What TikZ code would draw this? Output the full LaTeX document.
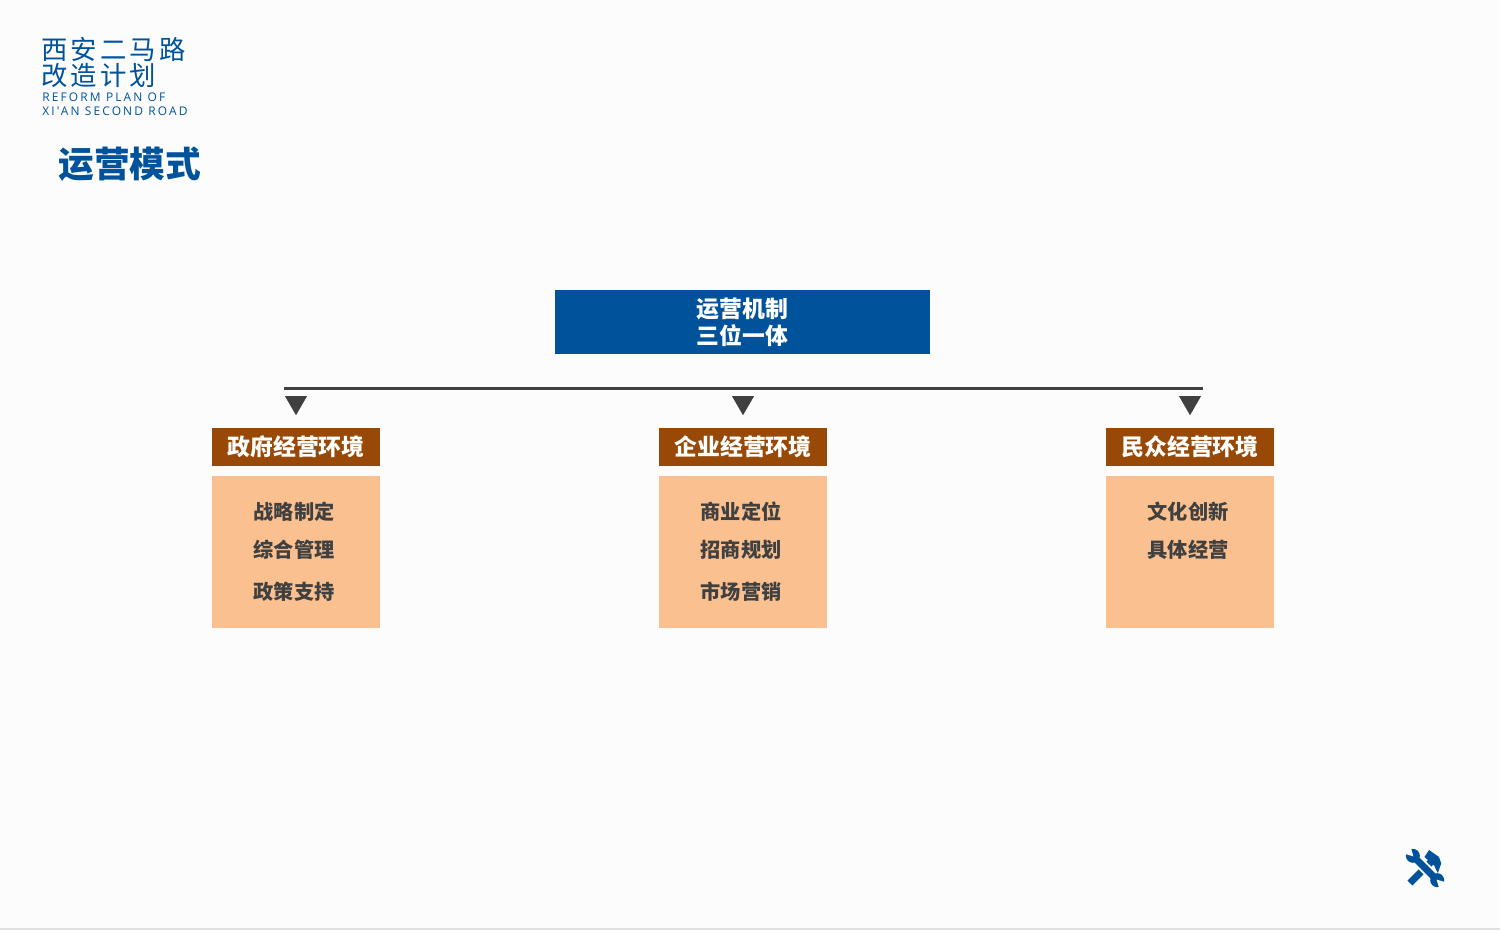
\documentclass[tikz,border=0pt]{standalone}
\usepackage{fontspec}
\setmainfont{Noto Sans CJK SC}
\newfontfamily\logofont[LetterSpace=12]{Noto Sans CJK SC}
\newfontfamily\logolatin[LetterSpace=18]{Open Sans}
\usetikzlibrary{shapes.geometric}
\definecolor{roadblue}{HTML}{00529B}
\definecolor{envbrown}{HTML}{984807}
\definecolor{envpeach}{HTML}{FAC090}
\definecolor{lineblack}{HTML}{404040}
\tikzset{
  mainbox/.style={fill=roadblue,text=white,minimum width=7.5cm,minimum height=1.28cm,inner sep=0pt,align=center,font=\fontsize{13}{15.3}\selectfont\bfseries},
  envhead/.style={fill=envbrown,text=white,minimum width=3.36cm,minimum height=0.76cm,inner sep=0pt,font=\fontsize{13}{15}\selectfont\bfseries},
  envbody/.style={fill=envpeach,minimum width=3.36cm,minimum height=3.04cm,inner sep=0pt},
  envitem/.style={text=lineblack,inner sep=0pt,font=\fontsize{11.5}{13}\selectfont\bfseries},
  downtri/.style={regular polygon,regular polygon sides=3,shape border rotate=180,fill=lineblack,minimum size=0.51cm,inner sep=0pt},
  logoline/.style={anchor=west,inner sep=0pt,text=roadblue}
}
\begin{document}
\begin{tikzpicture}
\fill[white!99!black] (0,0) rectangle (30,18.6);
\fill[black!12] (0,0) rectangle (30,0.04);
% logo and heading
\node[logoline,font=\logofont\fontsize{15}{16}\selectfont] (logoa) at (0.82,17.62) {西安二马路};
\node[logoline,font=\logofont\fontsize{15}{16}\selectfont] (logob) at (0.82,17.08) {改造计划};
\node[logoline,font=\logolatin\fontsize{6.8}{8}\selectfont] (logoc) at (0.84,16.66) {REFORM PLAN OF};
\node[logoline,font=\logolatin\fontsize{6.8}{8}\selectfont] (logod) at (0.84,16.38) {XI'AN SECOND ROAD};
\node[logoline,font=\fontsize{20.3}{22}\selectfont\bfseries] (heading) at (1.16,15.31) {运营模式};
% top box
\node[mainbox] (mechanism) at (14.85,12.16) {运营机制\\三位一体};
\coordinate (busleft) at (5.68,10.83);
\coordinate (busright) at (24.06,10.83);
\draw[lineblack,line width=1.7pt] (busleft) -- (busright);
\node[downtri] (trigov) at (5.92,10.55) {};
\node[downtri] (tribiz) at (14.86,10.55) {};
\node[downtri] (tripub) at (23.8,10.55) {};
% three columns
\node[envhead] (headgov) at (5.92,9.66) {政府经营环境};
\node[envhead] (headbiz) at (14.86,9.66) {企业经营环境};
\node[envhead] (headpub) at (23.8,9.66) {民众经营环境};
\node[envbody] (bodygov) at (5.92,7.56) {};
\node[envbody] (bodybiz) at (14.86,7.56) {};
\node[envbody] (bodypub) at (23.8,7.56) {};
\node[envitem] (gova) at (5.88,8.36) {战略制定};
\node[envitem] (govb) at (5.88,7.6) {综合管理};
\node[envitem] (govc) at (5.88,6.76) {政策支持};
\node[envitem] (biza) at (14.82,8.36) {商业定位};
\node[envitem] (bizb) at (14.82,7.6) {招商规划};
\node[envitem] (bizc) at (14.82,6.76) {市场营销};
\node[envitem] (puba) at (23.76,8.36) {文化创新};
\node[envitem] (pubb) at (23.76,7.6) {具体经营};
% tools icon
\begin{scope}[shift={(28.5,1.24)},rotate=-45,scale=0.82]
\fill[roadblue] (-0.085,-0.52) rectangle (0.085,0.24);
\fill[roadblue] (-0.2,0.18) -- (-0.24,0.38) -- (0.05,0.43) -- (0.2,0.36) -- (0.31,0.13) -- (0.12,0.2) -- cycle;
\fill[white] (-0.36,-0.13) rectangle (0.36,0.13);
\fill[roadblue] (-0.4,-0.085) rectangle (0.4,0.085);
\fill[roadblue] (-0.42,0) circle (0.17);
\fill[roadblue] (0.42,0) circle (0.17);
\fill[white!99!black] (-0.4,0) -- (-0.62,0.12) -- (-0.62,-0.12) -- cycle;
\fill[white!99!black] (0.4,0) -- (0.62,0.12) -- (0.62,-0.12) -- cycle;
\end{scope}
\end{tikzpicture}
\end{document}
